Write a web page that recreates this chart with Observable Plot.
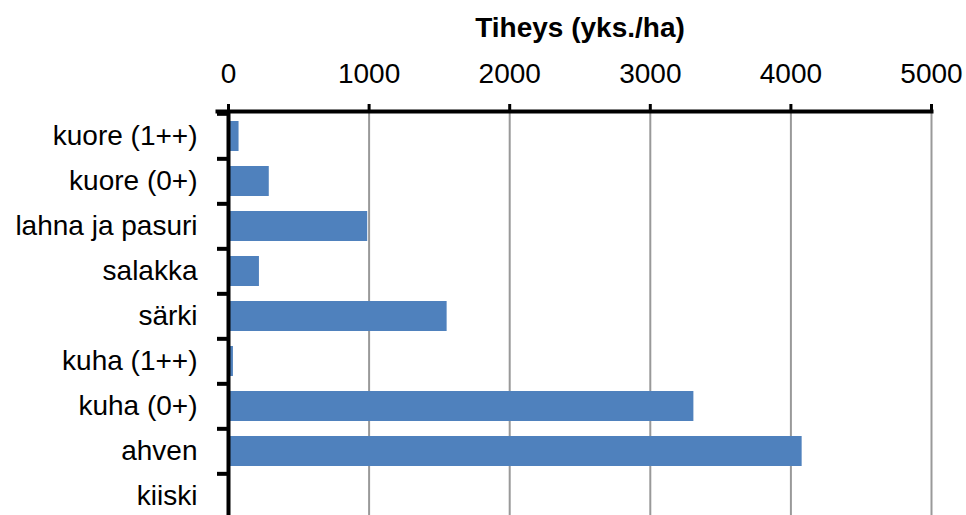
<!DOCTYPE html>
<html>
<head>
<meta charset="utf-8">
<script src="https://cdn.jsdelivr.net/npm/d3@7"></script>
<script src="https://cdn.jsdelivr.net/npm/@observablehq/plot@0.6"></script>
<style>
  html, body { margin: 0; padding: 0; background: #fff; }
  #chart svg { display: block; }
</style>
</head>
<body>
<div id="chart"></div>
<script>
// Fish species groups and their estimated densities (individuals per hectare)
const categories = [
  "kuore (1++)", "kuore (0+)", "lahna ja pasuri", "salakka", "särki",
  "kuha (1++)", "kuha (0+)", "ahven", "kiiski"
];
const densities = [75, 290, 990, 220, 1555, 35, 3310, 4080, 0];
const xTicks = [0, 1000, 2000, 3000, 4000, 5000];
const gridTicks = [1000, 2000, 3000, 4000, 5000];
const title = "Tiheys (yks./ha)";

const data = categories.map((name, i) => ({name, value: densities[i]}));

const font = "'Liberation Sans', Arial, sans-serif";

const chart = Plot.plot({
  width: 966,
  height: 515,
  marginTop: 111,
  marginLeft: 228,
  marginRight: 35,
  marginBottom: 0,
  style: {fontFamily: font, fontSize: "28px", color: "#000", background: "#fff", overflow: "hidden"},
  x: {domain: [0, 5000]},
  y: {domain: categories, range: [112, 520], paddingInner: 0.33, paddingOuter: 0.165},
  marks: [
    // vertical gridlines
    Plot.ruleX(gridTicks, {stroke: "#999", strokeWidth: 2}),
    // bars
    Plot.barX(data, {x: "value", y: "name", fill: "#4f81bd"}),
    // category labels
    Plot.axisY({tickSize: 0, tickPadding: 31, fontSize: 28, fill: "#000", label: null}),
    // category boundary ticks on the left
    Plot.axisY({tickSize: 11, text: null, dy: -(408 / 9) / 2, stroke: "#000", strokeWidth: 4, label: null}),
    // left axis line
    Plot.ruleX([0], {stroke: "#000", strokeWidth: 4}),
    // top axis line
    Plot.frame({anchor: "top", stroke: "#000", strokeWidth: 4, insetLeft: -11}),
    // top value axis
    Plot.axisX({anchor: "top", ticks: xTicks, tickSize: 8, tickPadding: 21, strokeWidth: 3, stroke: "#000",
                fontSize: 28, fill: "#000", label: null, tickFormat: d => String(d)}),
    // axis title
    Plot.text([title], {frameAnchor: "top", lineAnchor: "middle", dy: -83, fontWeight: "bold", fontSize: 28, fill: "#000"})
  ]
});

document.getElementById("chart").appendChild(chart);
</script>
</body>
</html>
